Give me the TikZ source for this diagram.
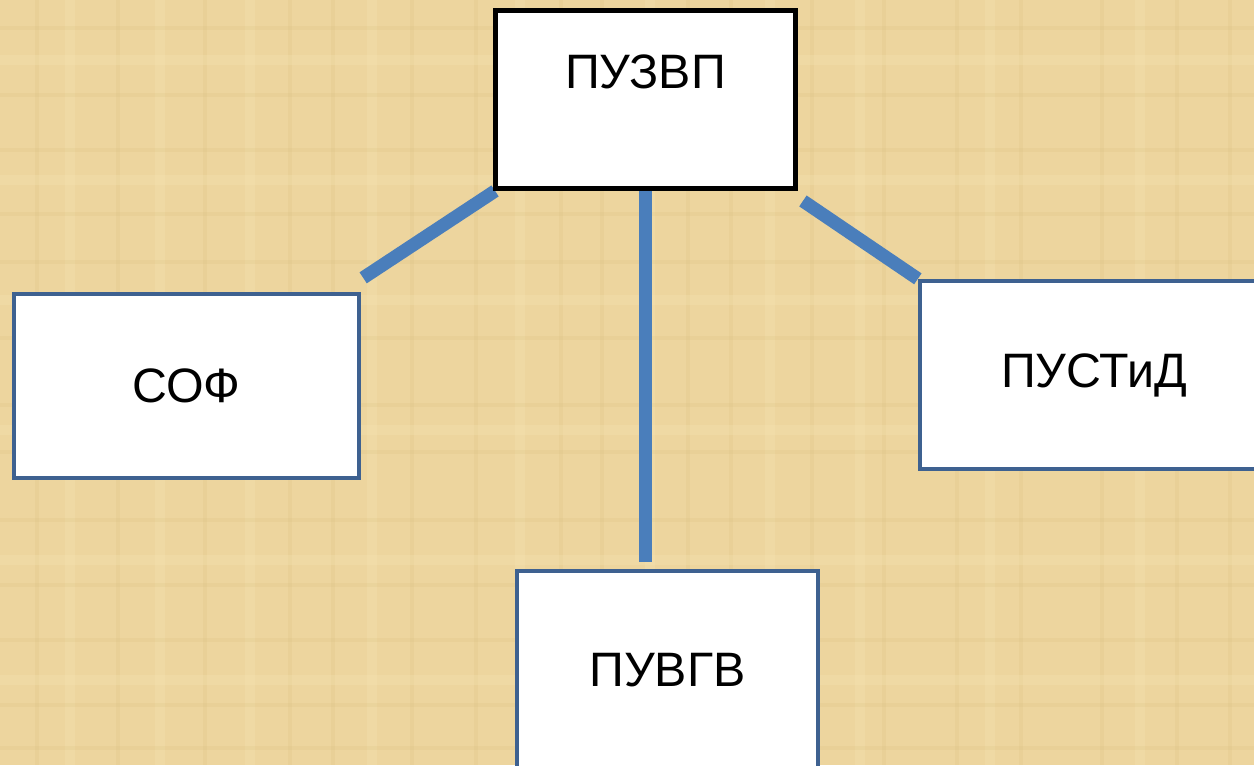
\documentclass[tikz,border=0pt]{standalone}
\usepackage{fontspec}
\setmainfont{Liberation Sans}
\usetikzlibrary{calc,backgrounds}
\definecolor{papyrus}{RGB}{237,213,158}
\definecolor{papyrusdark}{RGB}{214,186,120}
\definecolor{papyruslight}{RGB}{246,228,180}
\definecolor{boxblue}{RGB}{62,97,144}
\definecolor{linkblue}{RGB}{74,126,187}
\begin{document}
\begin{tikzpicture}[x=0.02cm,y=-0.02cm,
    box/.style={draw=boxblue,line width=2.5pt,fill=white,inner sep=0pt,
      font=\fontsize{27.5}{33}\selectfont},
    link/.style={draw=linkblue,line width=7.5pt},
    fibre/.style={line width=2.5pt,opacity=0.16}]
  \useasboundingbox (0,0) rectangle (1254,765);
  \clip (0,0) rectangle (1254,765);
  \node[box,draw=black,line width=2.8pt,minimum width=6cm,
    text height=1.55cm,text depth=2.01cm] (puzvp) at (645.5,99.5) {ПУЗВП};
  \node[box,minimum width=6.9cm,minimum height=3.68cm] (sof) at (186.5,386) {СОФ};
  \node[box,minimum width=6.96cm,minimum height=3.76cm] (pustid) at (1094,375) {ПУСТиД};
  \node[box,minimum width=6.02cm,minimum height=3.96cm] (puvgv) at (667.5,670) {ПУВГВ};
  \begin{scope}[on background layer]
    \fill[papyrus] (0,0) rectangle (1254,765);
    \foreach \x in {37,118,205,290,333,412,476,561,602,688,731,812,884,957,1021,1102,1177,1230}
      \draw[fibre,papyrusdark] (\x,0) -- (\x,765);
    \foreach \x in {70,160,250,372,520,650,770,860,990,1140}
      \draw[fibre,papyruslight,line width=6pt,opacity=0.3] (\x,0) -- (\x,765);
    \foreach \y in {28,95,150,214,262,338,405,452,520,585,640,705,748}
      \draw[fibre,papyrusdark] (0,\y) -- (1254,\y);
    \foreach \y in {60,180,300,430,560,680}
      \draw[fibre,papyruslight,line width=6pt,opacity=0.3] (0,\y) -- (1254,\y);
    \draw[link] ($(puzvp.south west)+(2,0)$) -- ($(sof.north east)+(2,-14)$);
    \draw[link] ($(puzvp.south east)+(5,10)$) -- (pustid.north west);
    \draw[link,shorten >=4pt] (puzvp.south) -- (puzvp.south |- puvgv.north);
  \end{scope}
\end{tikzpicture}
\end{document}
